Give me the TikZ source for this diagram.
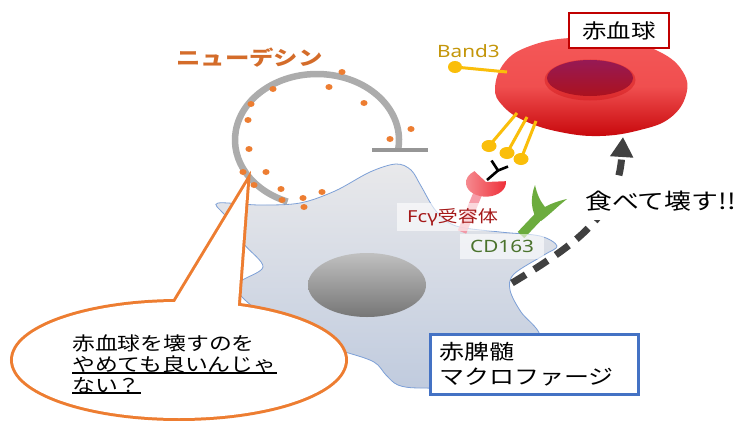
\documentclass[tikz,border=0pt]{standalone}
\usepackage{fontspec}
\newfontfamily\jp[FakeStretch=1.22]{Noto Sans CJK JP}
\newfontfamily\lat[FakeStretch=1.22]{Noto Sans}
\usetikzlibrary{arrows.meta}

\definecolor{dotorange}{RGB}{237,125,49}
\definecolor{neutext}{RGB}{212,108,42}
\definecolor{arcgrey}{RGB}{172,172,172}
\definecolor{bargrey}{RGB}{150,150,150}
\definecolor{rbctop}{RGB}{245,88,88}
\definecolor{rbcbot}{RGB}{200,8,12}
\definecolor{coretop}{RGB}{150,25,85}
\definecolor{corebot}{RGB}{172,18,30}
\definecolor{gold}{RGB}{250,190,10}
\definecolor{goldtext}{RGB}{196,150,10}
\definecolor{boxred}{RGB}{192,0,0}
\definecolor{boxblue}{RGB}{68,114,196}
\definecolor{celledge}{RGB}{125,160,215}
\definecolor{celltop}{RGB}{233,233,235}
\definecolor{cellbot}{RGB}{192,203,222}
\definecolor{nucleustop}{RGB}{192,192,192}
\definecolor{nucleusbot}{RGB}{118,118,118}
\definecolor{fcred}{RGB}{238,45,55}
\definecolor{fcpink}{RGB}{245,140,155}
\definecolor{fctext}{RGB}{165,25,25}
\definecolor{cdgreen}{RGB}{108,172,62}
\definecolor{cdtext}{RGB}{75,115,45}
\definecolor{arrowgrey}{RGB}{64,64,64}

\tikzset{
  jptext/.style={inner sep=0pt, font=\jp\fontsize{#1}{#1}\selectfont},
  labelbg/.style={fill=white, fill opacity=0.6, text opacity=1, inner xsep=10pt, inner ysep=5pt},
  lolli/.style={gold, line width=3pt},
  neudot/.style={fill=dotorange},
  bubbleline/.style={draw=dotorange, line width=6pt},
}

\begin{document}
\begin{tikzpicture}[x=1pt,y=-1pt]
\useasboundingbox (0,0) rectangle (741,420);
\fill[white] (0,0) rectangle (741,420);

% macrophage body
\path[draw=celledge, line width=0.8pt, top color=celltop, bottom color=cellbot]
  plot[smooth cycle, tension=0.55] coordinates {
  (218,203) (260,205) (300,203) (335,191) (370,172) (396,164) (411,170)
  (421,186) (436,211) (456,226) (500,232) (540,236) (557,246) (544,255)
  (514,274) (510,290) (521,312) (540,335) (540,370) (480,386) (420,388)
  (398,385) (386,375) (374,362) (345,352) (300,340) (245,300) (239,283)
  (263,267) (244,244) (234,224) (222,212)};
% nucleus
\path[top color=nucleustop, bottom color=nucleusbot] (367,285) ellipse[x radius=59, y radius=32];

% neudesin loop and bar
\draw[arcgrey, line width=6.5pt] (398.2,149.2) arc[start angle=8, end angle=-249, x radius=82, y radius=66];
\draw[bargrey, line width=4.5pt] (372,150) -- (428,150);
\foreach \p in {(342,72),(329,87),(273,89),(251,104),(364,103),(248,120),(411,129),
  (390,139),(249,149),(243,172),(266,172),(254,185),(281,189),(322,192),(303,198),
  (282,200),(304,207)}
  \fill[neudot] \p ellipse[x radius=3.6, y radius=3];

% receptor stems
\draw[fcpink, line width=9pt, opacity=0.85] (478,193) -- (462,232);
\draw[cdgreen, line width=9pt] (539,216) -- (521,235);

% receptor labels
\node[labelbg, anchor=west, font=\jp\fontsize{16.5}{16.5}\selectfont, text=fctext] (fclabel) at (397,217) {{\lat Fcγ}受容体};
\node[labelbg, anchor=west, font=\lat\fontsize{17}{17}\selectfont, text=cdtext, minimum height=25pt] (cdlabel) at (460,246) {CD163};

% Fc gamma receptor cup
\path[left color=fcred!55!white, right color=fcred]
  (486,182) -- (505.8,181.2) arc[start angle=-6, end angle=235, x radius=20, y radius=14] -- cycle;
% CD163 cup
\fill[cdgreen] (535,185) .. controls (530,198) and (531,212) .. (538,220) -- (541,221)
  .. controls (548,216) and (558,206) .. (567,199)
  .. controls (558,201) and (550,204) .. (545,207)
  .. controls (540,201) and (537,194) .. (535,185) -- cycle;

% red blood cell
\path[top color=rbctop, bottom color=rbcbot, middle color=rbctop!88!rbcbot]
  plot[smooth cycle, tension=0.7] coordinates {
  (495,88) (505,62) (530,46) (570,38) (620,40) (660,52) (683,72) (686,95)
  (670,118) (640,130) (600,136) (560,132) (525,121) (503,106)};
\fill[rbcbot, opacity=0.35] (590,80) ellipse[x radius=45.5, y radius=20.5];
\path[top color=coretop, bottom color=corebot] (590,78) ellipse[x radius=43, y radius=18];

% Band3 and antibody-bound Band3
\draw[lolli] (507,72) -- (455,67);
\fill[gold] (455,67) ellipse[x radius=7, y radius=6];
\draw[lolli] (517,113) -- (489,146);
\draw[lolli] (527,117) -- (507,153);
\draw[lolli] (536,121) -- (521,159);
\fill[gold] (489,146) ellipse[x radius=7.5, y radius=6];
\fill[gold] (507,153) ellipse[x radius=7.5, y radius=6];
\fill[gold] (521,159) ellipse[x radius=7.5, y radius=6];
\draw[black, line width=2.6pt] (491.5,160.5) -- (498,170.5) -- (508,166.5);
\draw[black, line width=2.6pt] (498,170.5) -- (487,180);

\node[jptext=20, draw=boxred, line width=2.5pt, fill=white, minimum width=100pt, minimum height=35pt] (rbclabel) at (619,30.5) {赤血球};
\node[anchor=west, font=\lat\fontsize{17}{17}\selectfont, text=goldtext, inner sep=0pt] (band) at (437,51) {Band3};

% speech bubble
\path[bubbleline] (179,360) ellipse[x radius=166, y radius=58];
\path[bubbleline, line join=miter] (158,330) -- (247,183) -- (236,330);
\fill[white] (179,360) ellipse[x radius=166, y radius=58];
\fill[white] (158,330) -- (247,183) -- (236,330) -- cycle;
\node[jptext=18.7, anchor=west] (s1) at (72,343) {赤血球を壊すのを};
\node[jptext=18.7, anchor=west] (s2) at (72,364) {やめても良いんじゃ};
\node[jptext=18.7, anchor=west] (s3) at (72,385) {ない？};
\draw[line width=1.8pt] (s2.south west) -- (s2.south east);
\draw[line width=1.8pt] (s3.south west) -- (s3.south east);

% macrophage label
\node[draw=boxblue, line width=2.5pt, fill=white, anchor=north west, minimum width=208pt,
  minimum height=60pt, text width=190pt, inner xsep=9pt, align=left,
  font=\jp\fontsize{20.5}{25}\selectfont] (mlabel) at (429,333) {赤脾髄\\マクロファージ};

% phagocytosis arrow
\coordinate (arrowstart) at (512,283);
\coordinate (arrowend) at (623,137);
\draw[arrowgrey, line width=7pt, dash pattern=on 16pt off 10pt, -{Triangle[length=20pt, width=22pt]}]
  (arrowstart) .. controls (575,245) and (618,215) .. (arrowend);
\node[jptext=22, fill=white, anchor=west, inner xsep=8pt, minimum height=37pt] (eat) at (577,201.5) {食べて壊す!!};

\node[anchor=west, font=\jp\bfseries\fontsize{20}{20}\selectfont, text=neutext, inner sep=0pt] (neu) at (176,58) {ニューデシン};
\end{tikzpicture}
\end{document}
